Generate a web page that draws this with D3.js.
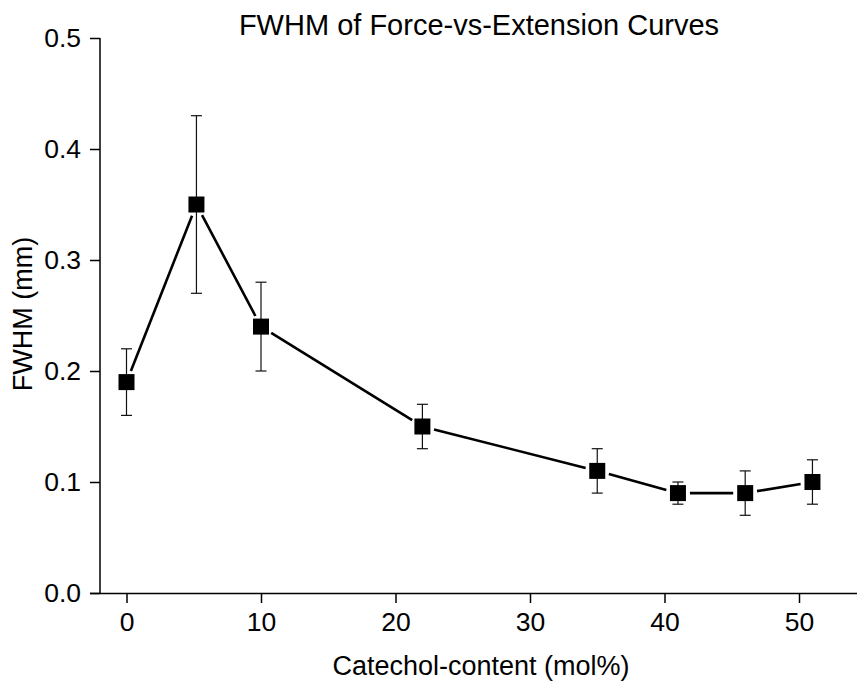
<!DOCTYPE html>
<html>
<head>
<meta charset="utf-8">
<script src="https://cdn.jsdelivr.net/npm/d3@7/dist/d3.min.js"></script>
<style>
  html, body { margin: 0; padding: 0; background: #fff; }
  svg { display: block; font-family: "Liberation Sans", Arial, sans-serif; }
</style>
</head>
<body>
<svg id="chart" width="857" height="685"></svg>
<script>
// ---- data ----
const catecholContent = [0, 5.2, 10, 22, 35, 41, 46, 51];
const fwhmValues      = [0.19, 0.35, 0.24, 0.15, 0.11, 0.09, 0.09, 0.10];
const fwhmErrors      = [0.03, 0.08, 0.04, 0.02, 0.02, 0.01, 0.02, 0.02];
const xTickValues     = [0, 10, 20, 30, 40, 50];
const yTickValues     = [0.0, 0.1, 0.2, 0.3, 0.4, 0.5];
const titleText  = "FWHM of Force-vs-Extension Curves";
const xAxisLabel = "Catechol-content (mol%)";
const yAxisLabel = "FWHM (mm)";

const svg = d3.select("#chart");
const yAxisX = 100, xAxisY = 593;
const tickFont = 26.5, labelFont = 27, titleFont = 29;

const x = d3.scaleLinear().domain([0, 50]).range([126.5, 799]);
const y = d3.scaleLinear().domain([0, 0.5]).range([593, 38]);

const data = catecholContent.map((c, i) => ({ x: c, y: fwhmValues[i], e: fwhmErrors[i] }));

// x axis
const xAxisG = svg.append("g").attr("transform", `translate(0,${xAxisY})`)
  .call(d3.axisBottom(x).tickValues(xTickValues).tickFormat(d3.format("d")).tickSize(10).tickPadding(9));
xAxisG.select(".domain").attr("d", `M${yAxisX - 10},0.5H857`);
xAxisG.selectAll("line, path").attr("stroke", "#000").attr("stroke-width", 1.5);
xAxisG.selectAll("text").attr("font-size", tickFont).attr("fill", "#000").attr("font-family", "Liberation Sans, Arial, sans-serif");

// y axis
const yAxisG = svg.append("g").attr("transform", `translate(${yAxisX},0)`)
  .call(d3.axisLeft(y).tickValues(yTickValues).tickFormat(d3.format(".1f")).tickSize(10).tickPadding(9));
yAxisG.select(".domain").attr("d", `M0,${y(0.5)}V${y(0)}`);
yAxisG.selectAll("line, path").attr("stroke", "#000").attr("stroke-width", 1.5);
yAxisG.selectAll("text").attr("font-size", tickFont).attr("fill", "#000").attr("font-family", "Liberation Sans, Arial, sans-serif");

// connecting line segments, with small gaps around markers
const gap = 12;
const segs = d3.pairs(data).map(([a, b]) => {
  const x1 = x(a.x), y1 = y(a.y), x2 = x(b.x), y2 = y(b.y);
  const len = Math.hypot(x2 - x1, y2 - y1);
  const ux = (x2 - x1) / len, uy = (y2 - y1) / len;
  return { x1: x1 + ux * gap, y1: y1 + uy * gap, x2: x2 - ux * gap, y2: y2 - uy * gap };
});
svg.append("g").selectAll("line").data(segs).join("line")
  .attr("x1", d => d.x1).attr("y1", d => d.y1)
  .attr("x2", d => d.x2).attr("y2", d => d.y2)
  .attr("stroke", "#000").attr("stroke-width", 2.6);

// error bars
const capW = 5.5;
const eb = svg.append("g").attr("stroke", "#111").attr("stroke-width", 1.2);
eb.selectAll("line.v").data(data).join("line").attr("class", "v")
  .attr("x1", d => x(d.x)).attr("x2", d => x(d.x))
  .attr("y1", d => y(d.y + d.e)).attr("y2", d => y(d.y - d.e));
eb.selectAll("line.t").data(data).join("line").attr("class", "t")
  .attr("x1", d => x(d.x) - capW).attr("x2", d => x(d.x) + capW)
  .attr("y1", d => y(d.y + d.e)).attr("y2", d => y(d.y + d.e));
eb.selectAll("line.b").data(data).join("line").attr("class", "b")
  .attr("x1", d => x(d.x) - capW).attr("x2", d => x(d.x) + capW)
  .attr("y1", d => y(d.y - d.e)).attr("y2", d => y(d.y - d.e));

// markers
const ms = 16;
svg.append("g").selectAll("rect").data(data).join("rect")
  .attr("x", d => x(d.x) - ms / 2).attr("y", d => y(d.y) - ms / 2)
  .attr("width", ms).attr("height", ms).attr("fill", "#000");

// title
svg.append("text").attr("x", 479).attr("y", 35).attr("text-anchor", "middle")
  .attr("font-size", titleFont).attr("fill", "#000").text(titleText);

// x label
svg.append("text").attr("x", 481).attr("y", 675).attr("text-anchor", "middle")
  .attr("font-size", labelFont).attr("fill", "#000").text(xAxisLabel);

// y label
svg.append("text").attr("transform", `translate(32,314) rotate(-90)`)
  .attr("text-anchor", "middle").attr("font-size", labelFont).attr("fill", "#000").text(yAxisLabel);
</script>
</body>
</html>
